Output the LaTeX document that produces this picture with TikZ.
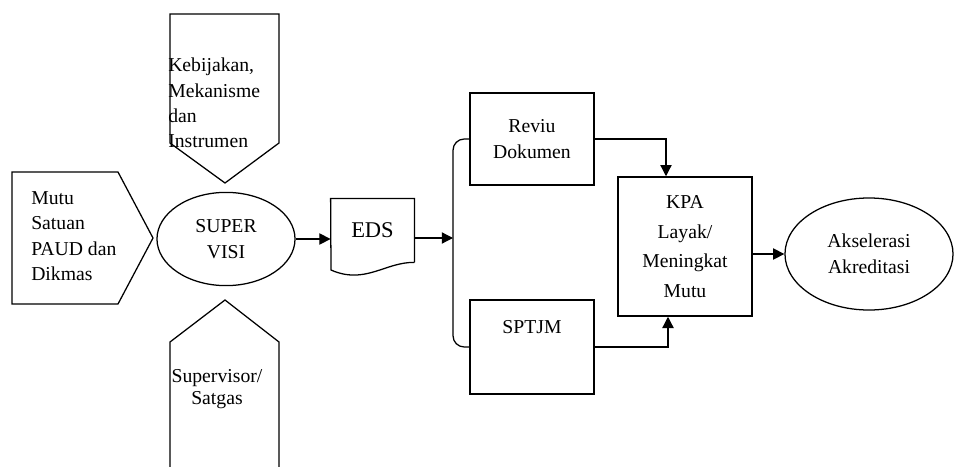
\documentclass[tikz,border=0pt]{standalone}
\usepackage{fontspec}
\setmainfont{Liberation Serif}
\usetikzlibrary{shapes.geometric,arrows.meta,calc}

\tikzset{
    line/.style={line width=0.9pt},
    txt/.style={font=\fontsize{14}{18}\selectfont, inner sep=0pt},
    box/.style={line, draw, txt, align=center, minimum width=3.1cm, minimum height=2.33cm},
    oval/.style={line, draw, ellipse, txt, align=center, inner sep=0pt},
    arr/.style={line, -{Triangle[length=8pt,width=8pt]}},
}

\begin{document}
\begin{tikzpicture}[x=0.025cm, y=-0.025cm]
    \useasboundingbox (0,0) rectangle (954,467);

    % arrow shapes round the supervision
    \draw[line] (12,172) -- (118,172) -- (153,238) -- (118,304) -- (12,304) -- cycle;
    \draw[line] (170,14) -- (279,14) -- (279,143) -- (225,183) -- (170,143) -- cycle;
    \draw[line] (170,467) -- (170,342) -- (225,300) -- (279,342) -- (279,467);

    \node[txt, align=left, anchor=west] (mutu) at (31,236) {Mutu\\Satuan\\PAUD dan\\Dikmas};
    \node[txt, align=left, anchor=west] (kebijakan) at (168,103) {Kebijakan,\\Mekanisme\\dan\\Instrumen};
    \node[txt, align=center, font=\fontsize{14}{15.5}\selectfont] (supervisor) at (217,389) {Supervisor/\\Satgas};

    \node[oval, minimum width=3.45cm, minimum height=2.33cm] (supervisi) at (226,239) {SUPER\\VISI};

    % EDS document
    \node[inner sep=0pt, minimum width=2.08cm, minimum height=1.58cm, font=\fontsize{16}{18}\selectfont] (eds) at (372.5,230.5) {EDS};
    \draw[line] (eds.south east) -- (eds.north east) -- (eds.north west) -- (331,270)
        .. controls (365,285) and (385,262) .. (eds.south east);

    \node[box, minimum height=2.3cm] (reviu) at (532,139) {Reviu\\Dokumen};
    \node[box, minimum height=2.35cm] (sptjm) at (532,347) {};
    \node[txt] (sptjmtext) at (532,327) {SPTJM};
    \node[box, minimum width=3.35cm, minimum height=3.48cm, font=\fontsize{14}{21}\selectfont] (kpa) at (685,246.5) {KPA\\Layak/\\Meningkat\\Mutu};
    \node[oval, minimum width=4.2cm, minimum height=2.8cm, font=\fontsize{14}{18.5}\selectfont] (aks) at (869,254) {Akselerasi\\Akreditasi};

    \coordinate (split) at (453,238);

    \draw[arr] (supervisi.east) -- (supervisi.east -| eds.west);
    \draw[arr] (eds.east |- split) -- (split);
    \draw[line, rounded corners=8pt] (reviu.west) -| (split) |- (sptjm.west);
    \draw[arr] (reviu.east) -| ([xshift=-0.475cm]kpa.north);
    \draw[arr] (sptjm.east) -| ([xshift=-0.425cm]kpa.south);
    \draw[arr] (kpa.east |- aks.west) -- (aks.west);
\end{tikzpicture}
\end{document}
